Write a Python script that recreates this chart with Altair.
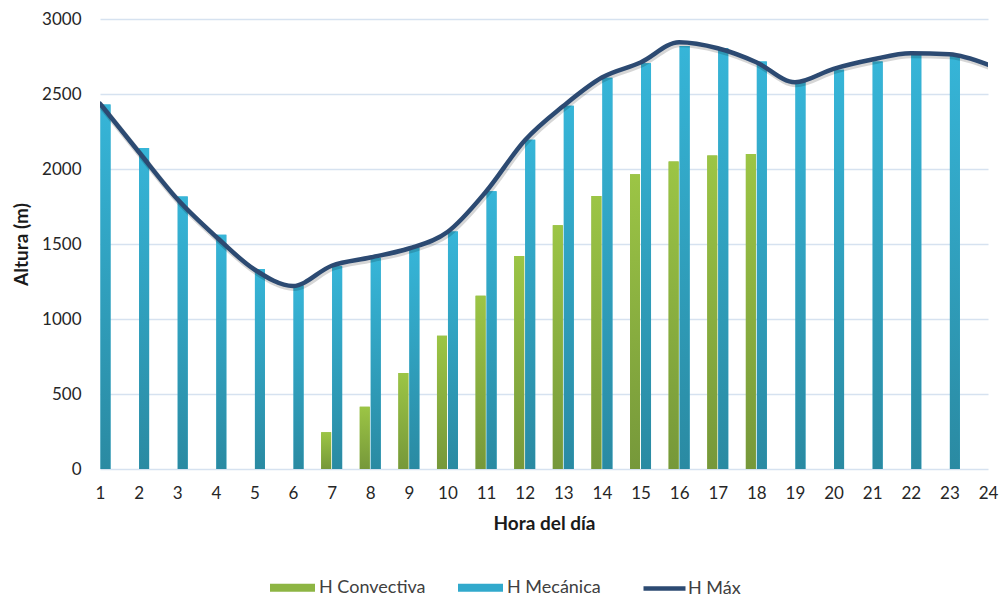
import altair as alt
import pandas as pd

hours = list(range(1, 25))
h_convectiva = [0, 0, 0, 0, 0, 0, 245, 415, 640, 888, 1155, 1420, 1625, 1820, 1965, 2050, 2090, 2100,
                0, 0, 0, 0, 0, 0]
h_mecanica = [2430, 2140, 1817, 1562, 1333, 1225, 1351, 1408, 1475, 1584, 1851, 2195, 2422, 2609, 2705,
              2820, 2807, 2717, 2584, 2662, 2717, 2762, 2767, 2700]
h_max = [2435, 2115, 1800, 1550, 1330, 1220, 1355, 1410, 1470, 1580, 1850, 2190, 2420, 2610, 2710,
         2845, 2805, 2712, 2578, 2668, 2730, 2772, 2765, 2695]

bar_names = ["H Convectiva", "H Mecánica"]
line_name = "H Máx"
green, blue, navy = "#8DB543", "#31A9CC", "#2C4A72"

df = pd.DataFrame({"hora": hours, "conv": h_convectiva, "mec": h_mecanica, "hmax": h_max})

FONT = "Lato"

x = alt.X("hora:Q",
          scale=alt.Scale(domain=[1, 24], nice=False, zero=False, padding=0),
          axis=alt.Axis(values=hours, title="Hora del día", grid=False, ticks=False, domain=False,
                        labelPadding=16, labelFontSize=17, labelColor="#262626", labelFont=FONT,
                        titleFont=FONT, titleFontSize=19, titleFontWeight="bold", titleColor="#1a1a1a",
                        titlePadding=13, labelFlush=False))

y_axis = alt.Axis(values=[0, 500, 1000, 1500, 2000, 2500, 3000], format="d", title="Altura (m)",
                  grid=True, gridColor="#D6E2F0", gridWidth=1.3, ticks=False, domain=False,
                  labelPadding=19, labelFontSize=17, labelColor="#262626", labelFont=FONT,
                  titleFont=FONT, titleFontSize=19, titleFontWeight="bold", titleColor="#1a1a1a",
                  titlePadding=10)

base = alt.Chart(df)

bar_legend = alt.Legend(orient="none", legendX=170, legendY=546, direction="horizontal", columns=2,
                        title=None, symbolType="M-1,-0.18H1V0.18H-1Z", symbolSize=2025,
                        symbolStrokeWidth=0, labelFont=FONT, labelFontSize=18, labelColor="#404040",
                        columnPadding=32, labelOffset=4)
fill_scale = alt.Scale(domain=bar_names, range=[green, blue])

conv_solid = base.transform_calculate(serie="'H Convectiva'").mark_bar(
    width=10, xOffset=-5.5, clip=True).encode(
    x=x, y=alt.Y("conv:Q", scale=alt.Scale(domain=[0, 3000]), axis=y_axis),
    fill=alt.Fill("serie:N", scale=fill_scale, legend=bar_legend))
mec_solid = base.transform_calculate(serie="'H Mecánica'").mark_bar(
    width=10, xOffset=5.5, clip=True).encode(
    x=x, y=alt.Y("mec:Q"),
    fill=alt.Fill("serie:N", scale=fill_scale, legend=bar_legend))

g_grad = alt.Gradient(gradient="linear", x1=0, x2=0, y1=0, y2=1,
                      stops=[alt.GradientStop(color="#9CC545", offset=0),
                             alt.GradientStop(color="#76983A", offset=1)])
b_grad = alt.Gradient(gradient="linear", x1=0, x2=0, y1=0, y2=1,
                      stops=[alt.GradientStop(color="#36B5D8", offset=0),
                             alt.GradientStop(color="#2A8AA2", offset=1)])

conv_grad = base.mark_bar(width=10, xOffset=-5.5, clip=True, color=g_grad).encode(
    x=x, y=alt.Y("conv:Q"))
mec_grad = base.mark_bar(width=10, xOffset=5.5, clip=True, color=b_grad).encode(
    x=x, y=alt.Y("mec:Q"))

shadow = base.mark_line(interpolate="monotone", strokeWidth=6, color="#000000", opacity=0.16,
                        yOffset=2, xOffset=1, clip=True).encode(x=x, y=alt.Y("hmax:Q"))

line_legend = alt.Legend(orient="none", legendX=541, legendY=546, direction="horizontal",
                         title=None, symbolType="stroke", symbolSize=1764, symbolStrokeWidth=4.5,
                         labelFont=FONT, labelFontSize=18, labelColor="#404040", labelOffset=0)
line = base.transform_calculate(linea="'H Máx'").mark_line(
    interpolate="monotone", strokeWidth=4.5, strokeCap="round", clip=True).encode(
    x=x, y=alt.Y("hmax:Q"),
    stroke=alt.Stroke("linea:N", scale=alt.Scale(domain=[line_name], range=[navy]), legend=line_legend))

chart = alt.layer(conv_solid, mec_solid, conv_grad, mec_grad, shadow, line).properties(
    width=888, height=450,
    padding={"left": 100, "top": 19, "right": 12, "bottom": 127},
    autosize=alt.AutoSizeParams(type="none"),
    background="white",
).configure_view(stroke=None)

chart.save("out.html", embed_options={"renderer": "svg", "actions": False})
